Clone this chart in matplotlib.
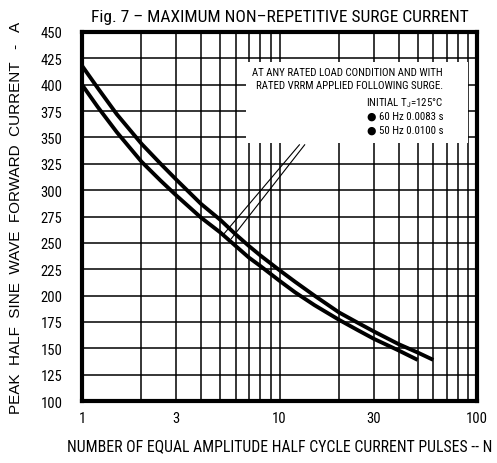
import matplotlib
matplotlib.use("Agg")
import matplotlib.pyplot as plt
from matplotlib import font_manager
from matplotlib.patches import Rectangle

# ---------------- data ----------------
n_60hz = [1, 1.2, 1.5, 2, 2.5, 3, 4, 5, 6, 7, 8, 10, 12, 15, 20, 25, 30, 40, 50, 60]
i_60hz = [418, 397, 372, 344, 325, 310, 287, 272, 258, 247, 238, 224, 213, 200, 184, 174, 166, 154, 146, 139]
n_50hz = [1, 1.2, 1.5, 2, 2.5, 3, 4, 5, 6, 7, 8, 10, 12, 15, 20, 25, 30, 40, 50]
i_50hz = [400, 379, 355, 327, 309, 295, 274, 260, 247, 236, 228, 214, 203, 191, 177, 167, 159, 148, 139]
# thin construction lines
guide_a_n = [5.2, 12.6]
guide_a_i = [258, 343]
guide_b_n = [5.7, 13.4]
guide_b_i = [254, 343]

x_ticks = [1, 3, 10, 30, 100]
x_tick_labels = ["1", "3", "10", "30", "100"]
x_grid = [1, 2, 3, 4, 5, 6, 7, 8, 9, 10, 20, 30, 40, 50, 60, 70, 80, 90, 100]
y_ticks = list(range(100, 451, 25))

title = "Fig. 7 – MAXIMUM NON–REPETITIVE SURGE CURRENT"
xlabel = "NUMBER OF EQUAL AMPLITUDE HALF CYCLE CURRENT PULSES -- N"
ylabel = "PEAK  HALF  SINE  WAVE  FORWARD  CURRENT   -   A"
note_lines = ["AT ANY RATED LOAD CONDITION AND WITH",
              "RATED VRRM APPLIED FOLLOWING SURGE."]
note_tj = r"INITIAL T$_\mathregular{J}$=125°C"
note_60 = "● 60 Hz 0.0083 s"
note_50 = "● 50 Hz 0.0100 s"

# ---------------- fonts ----------------
available = {f.name for f in font_manager.fontManager.ttflist}
fam = None
stretch = "normal"
for cand in ["Roboto Condensed", "Liberation Sans Narrow", "Open Sans Condensed"]:
    if cand in available:
        fam = cand
        break
if fam is None:
    fam = "DejaVu Sans"
    stretch = "condensed"
plt.rcParams["font.family"] = [fam, "DejaVu Sans"]
plt.rcParams["font.stretch"] = stretch

fig = plt.figure(figsize=(4.97, 4.64), dpi=100)
ax = fig.add_axes([0.165, 0.1336, 0.795, 0.7953])
ax.set_xscale("log")
ax.set_xlim(1, 100)
ax.set_ylim(100, 450)

# grid
for xv in x_grid:
    ax.axvline(xv, color="black", lw=1.1, zorder=1)
for yv in y_ticks:
    ax.axhline(yv, color="black", lw=1.1, zorder=1)

# white note box
ax.add_patch(Rectangle((6.8, 345), 90 - 6.8, 422 - 345, facecolor="white",
                       edgecolor="none", zorder=2))

ax.plot(guide_a_n, guide_a_i, color="black", lw=0.8, zorder=3)
ax.plot(guide_b_n, guide_b_i, color="black", lw=0.8, zorder=3)
ax.plot(n_60hz, i_60hz, color="black", lw=2.8, solid_capstyle="butt",
        solid_joinstyle="round", zorder=4)
ax.plot(n_50hz, i_50hz, color="black", lw=2.8, solid_capstyle="butt",
        solid_joinstyle="round", zorder=4)

ax.set_xticks(x_ticks)
ax.set_xticklabels(x_tick_labels)
ax.xaxis.set_minor_locator(matplotlib.ticker.NullLocator())
ax.set_yticks(y_ticks)
ax.tick_params(axis="both", length=0, labelsize=10.5)
ax.tick_params(axis="x", pad=7)
ax.tick_params(axis="y", pad=14)

for s in ax.spines.values():
    s.set_linewidth(3)

ax.set_title(title, fontsize=12.5, pad=8)
ax.set_xlabel(xlabel, fontsize=11.3, labelpad=10)
ax.set_ylabel(ylabel, fontsize=11, labelpad=13,
              family=["Liberation Sans", "DejaVu Sans"])

# note text (axes-pixel positions)
def fx(px):
    return (px - 82) / 395.0
def fy(py):
    return (402 - py) / 369.0

for txt, py in [(note_lines[0], 73), (note_lines[1], 86), (note_tj, 103),
                (note_60, 117), (note_50, 131)]:
    ax.text(fx(443), fy(py), txt, transform=ax.transAxes, ha="right",
            va="center", fontsize=7.8, zorder=5)

fig.savefig("out.png", dpi=100, facecolor="white")
